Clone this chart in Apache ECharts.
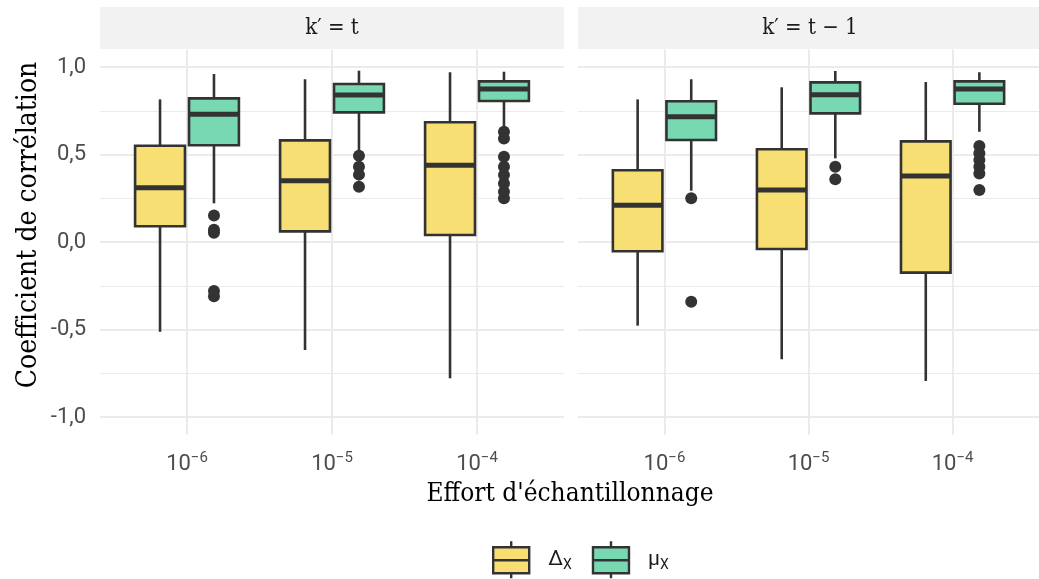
<!DOCTYPE html>
<html><head><meta charset="utf-8">
<script src="https://cdn.jsdelivr.net/npm/echarts@6/dist/echarts.min.js"></script>
<style>html,body{margin:0;padding:0;background:#fff}#c{width:1039px;height:579px}</style>
</head><body><div id="c"></div>
<script>
// ---- data ----
const categories = [1, 2, 3];
const tickBase = '10';
const tickExponents = ['−6', '−5', '−4'];
const panelLabels = ['k′ = t', 'k′ = t − 1'];
const seriesNames = ['ΔX', 'μX'];
const yTicks = [-1, -0.5, 0, 0.5, 1];
const yMinorTicks = [-0.75, -0.25, 0.25, 0.75];
// each entry: [lower whisker, Q1, median, Q3, upper whisker]
const deltaStatsP1 = [[-0.513, 0.09, 0.31, 0.55, 0.815], [-0.617, 0.061, 0.35, 0.581, 0.93], [-0.779, 0.04, 0.438, 0.684, 0.97]];
const muStatsP1 = [[0.221, 0.553, 0.73, 0.821, 0.96], [0.51, 0.741, 0.84, 0.903, 0.979], [0.659, 0.806, 0.874, 0.918, 0.973]];
const deltaOutliersP1 = [[], [], []];
const muOutliersP1 = [[0.152, 0.07, 0.053, -0.28, -0.31], [0.493, 0.43, 0.385, 0.316], [0.63, 0.592, 0.487, 0.43, 0.383, 0.335, 0.287, 0.25]];
const deltaStatsP2 = [[-0.478, -0.053, 0.21, 0.41, 0.815], [-0.67, -0.04, 0.297, 0.53, 0.884], [-0.794, -0.175, 0.377, 0.575, 0.914]];
const muStatsP2 = [[0.293, 0.583, 0.716, 0.804, 0.93], [0.478, 0.735, 0.842, 0.912, 0.977], [0.63, 0.79, 0.874, 0.918, 0.97]];
const deltaOutliersP2 = [[], [], []];
const muOutliersP2 = [[0.25, -0.341], [0.43, 0.358], [0.549, 0.507, 0.469, 0.43, 0.392, 0.297]];

// ---- style ----
const COLORS = ['#F7DF74', '#78D8B2'];
const DARK = '#333333';
const GRIDC = '#EBEBEB';
const DODGE = [-0.186, 0.186];
const HALF = 0.172;
const SERIF = "'DejaVu Serif Condensed', 'DejaVu Serif', serif";
const SANS = "Roboto, 'Noto Sans', sans-serif";

const panels = [
  {stats: [deltaStatsP1, muStatsP1], outs: [deltaOutliersP1, muOutliersP1]},
  {stats: [deltaStatsP2, muStatsP2], outs: [deltaOutliersP2, muOutliersP2]}
];

function makeRender(s) {
  return function (params, api) {
    const x = api.value(0) + DODGE[s];
    const lo = api.coord([x, api.value(1)]);
    const q1 = api.coord([x, api.value(2)]);
    const md = api.coord([x, api.value(3)]);
    const q3 = api.coord([x, api.value(4)]);
    const hi = api.coord([x, api.value(5)]);
    const hw = api.size([HALF, 0])[0];
    const cx = lo[0];
    return {type: 'group', children: [
      {type: 'line', shape: {x1: cx, y1: hi[1], x2: cx, y2: q3[1]}, style: {stroke: DARK, lineWidth: 2.6}},
      {type: 'line', shape: {x1: cx, y1: q1[1], x2: cx, y2: lo[1]}, style: {stroke: DARK, lineWidth: 2.6}},
      {type: 'rect', shape: {x: cx - hw, y: q3[1], width: 2 * hw, height: q1[1] - q3[1]}, style: {fill: COLORS[s], stroke: DARK, lineWidth: 2.6}},
      {type: 'line', shape: {x1: cx - hw, y1: md[1], x2: cx + hw, y2: md[1]}, style: {stroke: DARK, lineWidth: 5}}
    ]};
  };
}

const grids = [], xAxes = [], yAxes = [], series = [];
const gridLefts = [100, 578];
panels.forEach((p, pi) => {
  grids.push({left: gridLefts[pi], top: 49.5, width: 464, height: 385});
  xAxes.push({
    type: 'value', gridIndex: pi, min: 0.4, max: 3.6,
    axisLine: {show: false},
    axisTick: {show: false, customValues: categories},
    axisLabel: {
      customValues: categories, margin: 16,
      formatter: v => '{b|' + tickBase + '}{s|' + tickExponents[Math.round(v) - 1] + '}',
      rich: {
        b: {fontSize: 22, color: '#4D4D4D', fontFamily: SANS, lineHeight: 28, verticalAlign: 'middle'},
        s: {fontSize: 15, color: '#4D4D4D', fontFamily: SANS, lineHeight: 15, verticalAlign: 'top'}
      }
    },
    splitLine: {show: true, lineStyle: {color: GRIDC, width: 2}}
  });
  yAxes.push({
    type: 'value', gridIndex: pi, min: -1.1, max: 1.1, position: 'left',
    axisLine: {show: false},
    axisTick: {show: false, customValues: yTicks},
    axisLabel: {show: pi === 0, customValues: yTicks, margin: 14, color: '#4D4D4D', fontSize: 22, fontFamily: SANS,
      formatter: v => v.toFixed(1).replace('.', ',')},
    splitLine: {show: true, lineStyle: {color: GRIDC, width: 2}}
  });
  yAxes.push({
    type: 'value', gridIndex: pi, min: -1.1, max: 1.1, position: 'left',
    axisLine: {show: false},
    axisTick: {show: false, customValues: yMinorTicks},
    axisLabel: {show: false, customValues: yMinorTicks},
    splitLine: {show: true, lineStyle: {color: GRIDC, width: 1}}
  });
  [0, 1].forEach(s => {
    series.push({
      type: 'custom', name: seriesNames[s], xAxisIndex: pi, yAxisIndex: pi * 2,
      itemStyle: {color: COLORS[s], borderColor: DARK},
      encode: {x: 0, y: [1, 2, 3, 4, 5]},
      renderItem: makeRender(s),
      data: p.stats[s].map((st, i) => [categories[i]].concat(st)),
      z: 2
    });
    const pts = [];
    p.outs[s].forEach((arr, i) => arr.forEach(v => pts.push([categories[i] + DODGE[s], v])));
    series.push({
      type: 'scatter', name: 'out' + s, xAxisIndex: pi, yAxisIndex: pi * 2,
      symbolSize: 12, itemStyle: {color: DARK, opacity: 1}, data: pts, z: 3, silent: true
    });
  });
});

const chart = echarts.init(document.getElementById('c'), null, {renderer: 'canvas'});
chart.setOption({
  animation: false,
  backgroundColor: '#fff',
  grid: grids, xAxis: xAxes, yAxis: yAxes, series: series,
  legend: {
    left: 492, top: 540, padding: 0, itemWidth: 36, itemHeight: 37, itemGap: 20,
    icon: 'path://M18,0L18,6M0,6L36,6L36,32L0,32ZM0,19L36,19M18,32L18,37',
    data: seriesNames.map((n, s) => ({name: n, itemStyle: {color: COLORS[s], borderColor: DARK, borderWidth: 2.4}})),
    formatter: name => '{a|' + name[0] + '}{s|' + name.slice(1) + '}',
    textStyle: {rich: {
      a: {fontSize: 21, color: '#1A1A1A', fontFamily: SANS, padding: [0, 0, 0, 14], lineHeight: 26, verticalAlign: 'middle'},
      s: {fontSize: 14, color: '#1A1A1A', fontFamily: SANS, lineHeight: 14, verticalAlign: 'bottom'}
    }},
    selectedMode: false
  },
  graphic: [
    {type: 'rect', shape: {x: 100, y: 7, width: 464, height: 42}, style: {fill: '#F2F2F2'}},
    {type: 'rect', shape: {x: 578, y: 7, width: 464, height: 42}, style: {fill: '#F2F2F2'}},
    {type: 'text', x: 332, y: 28, style: {text: panelLabels[0], align: 'center', verticalAlign: 'middle', fontSize: 22, fontFamily: SERIF, fill: '#1A1A1A'}},
    {type: 'text', x: 810, y: 28, style: {text: panelLabels[1], align: 'center', verticalAlign: 'middle', fontSize: 22, fontFamily: SERIF, fill: '#1A1A1A'}},
    {type: 'text', x: 570, y: 494, style: {text: "Effort d'échantillonnage", align: 'center', verticalAlign: 'middle', fontSize: 26, fontFamily: SERIF, fill: '#000'}},
    {type: 'text', x: 29, y: 225, rotation: Math.PI / 2, style: {text: 'Coefficient de corrélation', align: 'center', verticalAlign: 'middle', fontSize: 28, fontFamily: SERIF, fill: '#000'}}
  ]
});
</script></body></html>
